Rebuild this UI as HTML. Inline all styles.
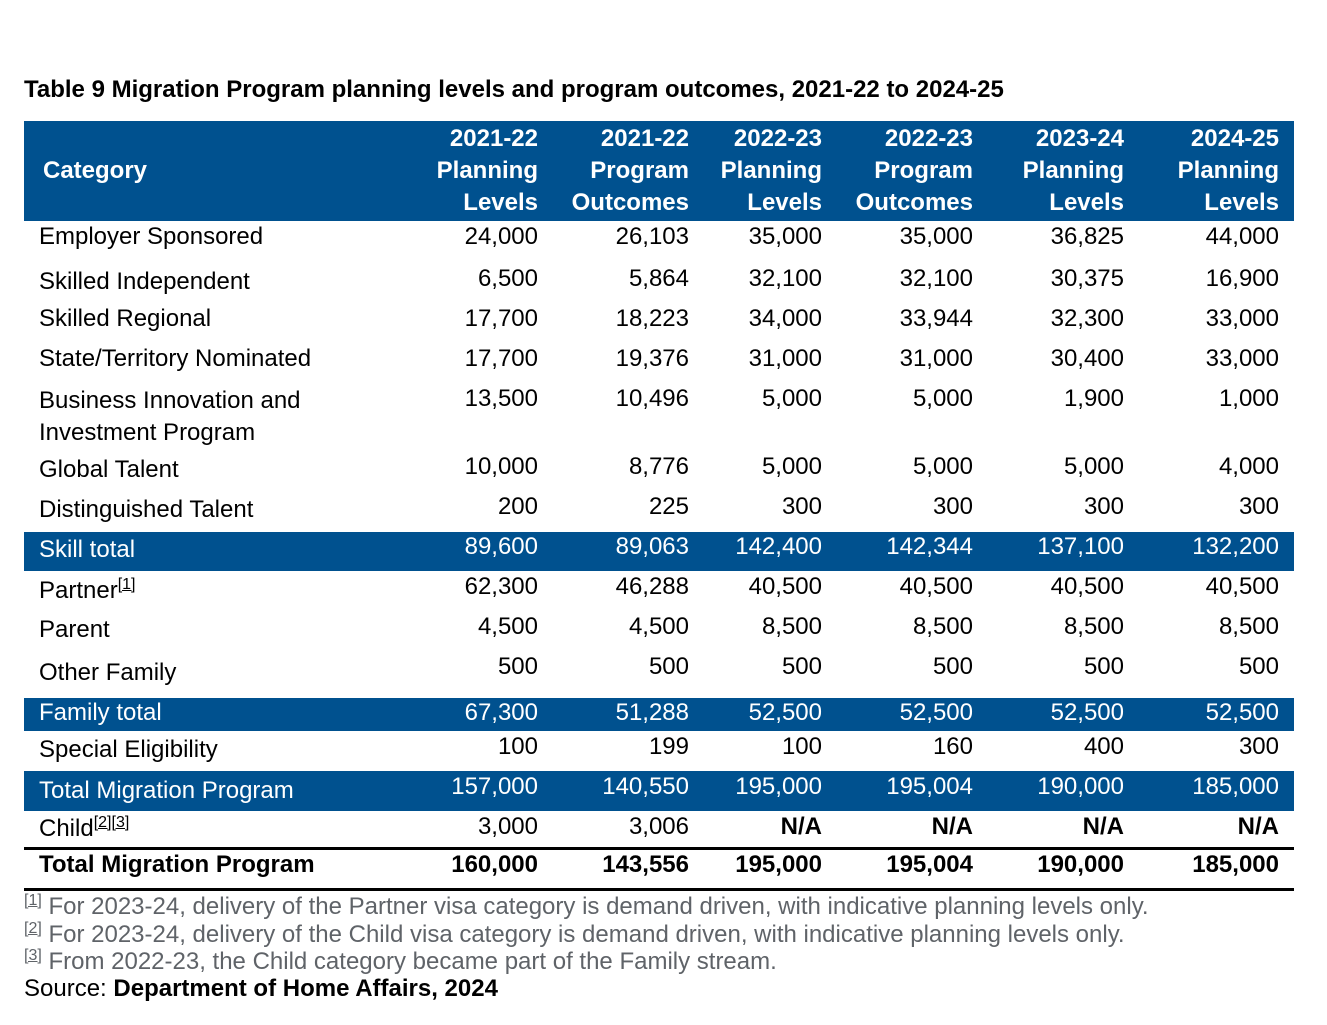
<!DOCTYPE html>
<html><head><meta charset="utf-8"><style>
body{margin:0;width:1327px;height:1025px;background:#fff;position:relative;font-family:"Liberation Sans",sans-serif;font-size:24px;color:#000;overflow:hidden}
.t{position:absolute;height:28px;line-height:28px;white-space:nowrap;margin-top:0}
.band{position:absolute;left:24px;width:1270px;background:#00518f}
.w{color:#fff}
.b{font-weight:bold}
.c1{right:789px}.c2{right:638px}.c3{right:505px}.c4{right:354px}.c5{right:203px}.c6{right:48px}
.l{left:39px}
sup{font-size:16px;text-decoration:underline;vertical-align:9px;line-height:0}
.fn{position:absolute;left:24px;color:#5f6368;font-size:24px;height:28px;line-height:28px;white-space:nowrap;margin-top:0}
.line{position:absolute;left:24px;width:1270px;height:3px;background:#000}
</style></head><body>
<div class="t b" style="left:24px;top:76px">Table 9 Migration Program planning levels and program outcomes, 2021-22 to 2024-25</div>
<div class="band" style="top:121px;height:100px"></div>
<div class="t w b" style="left:43px;top:157px">Category</div>
<div class="t w b c1" style="top:125px">2021-22</div><div class="t w b c1" style="top:157px">Planning</div><div class="t w b c1" style="top:189px">Levels</div>
<div class="t w b c2" style="top:125px">2021-22</div><div class="t w b c2" style="top:157px">Program</div><div class="t w b c2" style="top:189px">Outcomes</div>
<div class="t w b c3" style="top:125px">2022-23</div><div class="t w b c3" style="top:157px">Planning</div><div class="t w b c3" style="top:189px">Levels</div>
<div class="t w b c4" style="top:125px">2022-23</div><div class="t w b c4" style="top:157px">Program</div><div class="t w b c4" style="top:189px">Outcomes</div>
<div class="t w b c5" style="top:125px">2023-24</div><div class="t w b c5" style="top:157px">Planning</div><div class="t w b c5" style="top:189px">Levels</div>
<div class="t w b c6" style="top:125px">2024-25</div><div class="t w b c6" style="top:157px">Planning</div><div class="t w b c6" style="top:189px">Levels</div>

<div class="t l" style="top:223px">Employer Sponsored</div>
<div class="t c1" style="top:223px">24,000</div><div class="t c2" style="top:223px">26,103</div><div class="t c3" style="top:223px">35,000</div><div class="t c4" style="top:223px">35,000</div><div class="t c5" style="top:223px">36,825</div><div class="t c6" style="top:223px">44,000</div>

<div class="t l" style="top:268px">Skilled Independent</div>
<div class="t c1" style="top:265px">6,500</div><div class="t c2" style="top:265px">5,864</div><div class="t c3" style="top:265px">32,100</div><div class="t c4" style="top:265px">32,100</div><div class="t c5" style="top:265px">30,375</div><div class="t c6" style="top:265px">16,900</div>

<div class="t l" style="top:305px">Skilled Regional</div>
<div class="t c1" style="top:305px">17,700</div><div class="t c2" style="top:305px">18,223</div><div class="t c3" style="top:305px">34,000</div><div class="t c4" style="top:305px">33,944</div><div class="t c5" style="top:305px">32,300</div><div class="t c6" style="top:305px">33,000</div>

<div class="t l" style="top:345px">State/Territory Nominated</div>
<div class="t c1" style="top:345px">17,700</div><div class="t c2" style="top:345px">19,376</div><div class="t c3" style="top:345px">31,000</div><div class="t c4" style="top:345px">31,000</div><div class="t c5" style="top:345px">30,400</div><div class="t c6" style="top:345px">33,000</div>

<div class="t l" style="top:387px">Business Innovation and</div>
<div class="t l" style="top:419px">Investment Program</div>
<div class="t c1" style="top:385px">13,500</div><div class="t c2" style="top:385px">10,496</div><div class="t c3" style="top:385px">5,000</div><div class="t c4" style="top:385px">5,000</div><div class="t c5" style="top:385px">1,900</div><div class="t c6" style="top:385px">1,000</div>

<div class="t l" style="top:456px">Global Talent</div>
<div class="t c1" style="top:453px">10,000</div><div class="t c2" style="top:453px">8,776</div><div class="t c3" style="top:453px">5,000</div><div class="t c4" style="top:453px">5,000</div><div class="t c5" style="top:453px">5,000</div><div class="t c6" style="top:453px">4,000</div>

<div class="t l" style="top:496px">Distinguished Talent</div>
<div class="t c1" style="top:493px">200</div><div class="t c2" style="top:493px">225</div><div class="t c3" style="top:493px">300</div><div class="t c4" style="top:493px">300</div><div class="t c5" style="top:493px">300</div><div class="t c6" style="top:493px">300</div>

<div class="band" style="top:532px;height:39px"></div>
<div class="t l w" style="top:536px">Skill total</div>
<div class="t w c1" style="top:533px">89,600</div><div class="t w c2" style="top:533px">89,063</div><div class="t w c3" style="top:533px">142,400</div><div class="t w c4" style="top:533px">142,344</div><div class="t w c5" style="top:533px">137,100</div><div class="t w c6" style="top:533px">132,200</div>

<div class="t l" style="top:577px">Partner<sup>[1]</sup></div>
<div class="t c1" style="top:573px">62,300</div><div class="t c2" style="top:573px">46,288</div><div class="t c3" style="top:573px">40,500</div><div class="t c4" style="top:573px">40,500</div><div class="t c5" style="top:573px">40,500</div><div class="t c6" style="top:573px">40,500</div>

<div class="t l" style="top:616px">Parent</div>
<div class="t c1" style="top:613px">4,500</div><div class="t c2" style="top:613px">4,500</div><div class="t c3" style="top:613px">8,500</div><div class="t c4" style="top:613px">8,500</div><div class="t c5" style="top:613px">8,500</div><div class="t c6" style="top:613px">8,500</div>

<div class="t l" style="top:659px">Other Family</div>
<div class="t c1" style="top:653px">500</div><div class="t c2" style="top:653px">500</div><div class="t c3" style="top:653px">500</div><div class="t c4" style="top:653px">500</div><div class="t c5" style="top:653px">500</div><div class="t c6" style="top:653px">500</div>

<div class="band" style="top:698px;height:33px"></div>
<div class="t l w" style="top:699px">Family total</div>
<div class="t w c1" style="top:699px">67,300</div><div class="t w c2" style="top:699px">51,288</div><div class="t w c3" style="top:699px">52,500</div><div class="t w c4" style="top:699px">52,500</div><div class="t w c5" style="top:699px">52,500</div><div class="t w c6" style="top:699px">52,500</div>

<div class="t l" style="top:736px">Special Eligibility</div>
<div class="t c1" style="top:733px">100</div><div class="t c2" style="top:733px">199</div><div class="t c3" style="top:733px">100</div><div class="t c4" style="top:733px">160</div><div class="t c5" style="top:733px">400</div><div class="t c6" style="top:733px">300</div>

<div class="band" style="top:771px;height:40px"></div>
<div class="t l w" style="top:777px">Total Migration Program</div>
<div class="t w c1" style="top:773px">157,000</div><div class="t w c2" style="top:773px">140,550</div><div class="t w c3" style="top:773px">195,000</div><div class="t w c4" style="top:773px">195,004</div><div class="t w c5" style="top:773px">190,000</div><div class="t w c6" style="top:773px">185,000</div>

<div class="t l" style="top:815px">Child<sup>[2][3]</sup></div>
<div class="t c1" style="top:813px">3,000</div><div class="t c2" style="top:813px">3,006</div><div class="t b c3" style="top:813px">N/A</div><div class="t b c4" style="top:813px">N/A</div><div class="t b c5" style="top:813px">N/A</div><div class="t b c6" style="top:813px">N/A</div>

<div class="line" style="top:847px"></div>
<div class="t l b" style="top:851px">Total Migration Program</div>
<div class="t b c1" style="top:851px">160,000</div><div class="t b c2" style="top:851px">143,556</div><div class="t b c3" style="top:851px">195,000</div><div class="t b c4" style="top:851px">195,004</div><div class="t b c5" style="top:851px">190,000</div><div class="t b c6" style="top:851px">185,000</div>
<div class="line" style="top:888px"></div>

<div class="fn" style="top:893px"><sup>[1]</sup> For 2023-24, delivery of the Partner visa category is demand driven, with indicative planning levels only.</div>
<div class="fn" style="top:921px"><sup>[2]</sup> For 2023-24, delivery of the Child visa category is demand driven, with indicative planning levels only.</div>
<div class="fn" style="top:948px"><sup>[3]</sup> From 2022-23, the Child category became part of the Family stream.</div>
<div class="t" style="left:24px;top:975px">Source: <b>Department of Home Affairs, 2024</b></div>
</body></html>
